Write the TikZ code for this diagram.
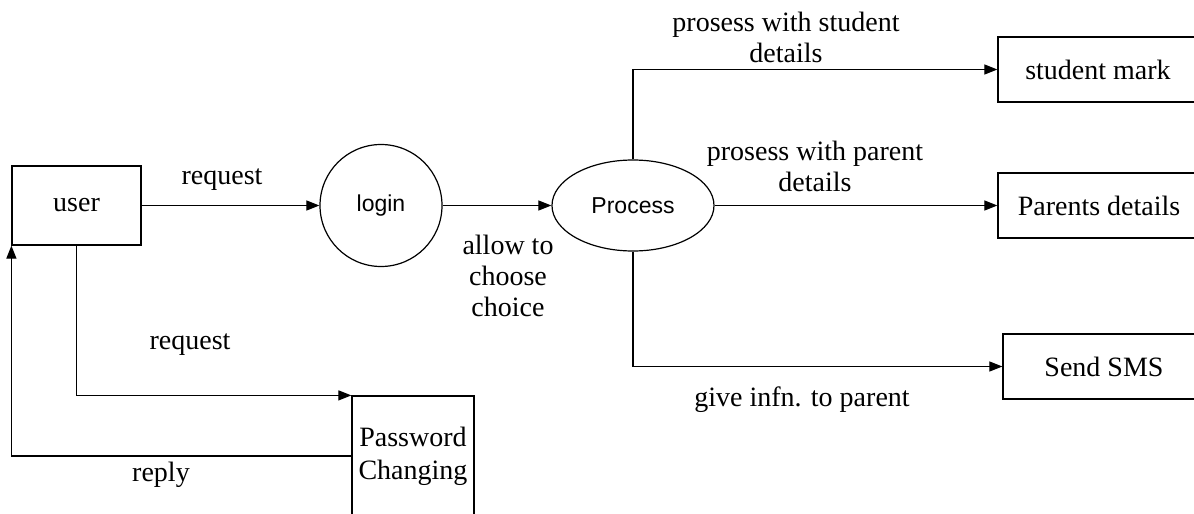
\documentclass[tikz,border=0pt]{standalone}
\usepackage{fontspec}
\setmainfont{Liberation Serif}
\newfontfamily\arialf{Liberation Sans}
\usetikzlibrary{arrows.meta,shapes.geometric}
\begin{document}
\begin{tikzpicture}[x=1pt,y=-1pt,
 box/.style={draw, line width=1.2pt, inner sep=0pt, align=center, font=\fontsize{28}{33}\selectfont},
 bub/.style={draw, line width=1.2pt, inner sep=0pt, font=\arialf\fontsize{23}{27}\selectfont},
 lbl/.style={inner sep=0pt, align=center, font=\fontsize{28}{31}\selectfont},
 flow/.style={line width=1.1pt, -{Triangle[length=13pt,width=10pt]}}]
\useasboundingbox (0,0) rectangle (1194,514);
\clip (0,0) rectangle (1194,514);
\node[box, minimum width=129pt, minimum height=79pt] (user) at (76.5,205.5) {user};
\node[bub, circle, minimum size=122pt] (login) at (381,205.5) {login};
\node[bub, ellipse, minimum width=162pt, minimum height=91pt] (proc) at (633,205.5) {Process};
\node[box, minimum width=200pt, minimum height=65pt] (stud) at (1098,69.5) {student mark};
\node[box, minimum width=202pt, minimum height=65pt] (par) at (1099,205.5) {Parents details};
\node[box, minimum width=202pt, minimum height=65pt] (sms) at (1104,366.5) {Send SMS};
\node[box, minimum width=122pt, minimum height=120pt] (pw) at (413,456) {Password\\Changing};

\draw[flow] (user.east) -- (login.west);
\draw[flow] (login.east) -- (proc.west);
\draw[flow] (proc.north) |- (stud.west);
\draw[flow] (proc.east) -- (par.west);
\draw[flow] (proc.south) |- (sms.west);
\draw[flow] (user.south) |- (pw.north west);
\draw[flow] (pw.west) -| (user.south west);

\node[lbl] (l1) at (222,180) {request};
\node[lbl] (l2) at (508,276) {allow to\\choose\\choice};
\node[lbl] (l3) at (786,37) {prosess with student\\details};
\node[lbl] (l4) at (815,166) {prosess with parent\\details};
\node[lbl] (l5) at (802,400) {give infn. to parent};
\node[lbl] (l6) at (190,345) {request};
\node[lbl] (l7) at (161,475) {reply};
\end{tikzpicture}
\end{document}
